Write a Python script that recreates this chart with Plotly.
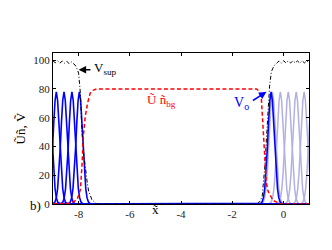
import plotly.graph_objects as go

# eixo x (x~) e rótulos
x_ticks = [-8, -6, -4, -2, 0]
x_ticklabels = ["-8", "-6", "-4", "-2", "0"]
y_ticks = [0, 20, 40, 60, 80, 100]
y_ticklabels = ["0", "20", "40", "60", "80", "100"]

# V_sup (preto, traço-ponto)
vsup_x = [-9.0, -8.91, -8.82, -8.73, -8.64, -8.55, -8.46, -8.37, -8.28, -8.19, -8.13,
          -8.06, -8.00, -7.93, -7.87, -7.80, -7.74, -7.67, -7.61, -7.48, -7.29,
          -1.04, -0.93, -0.83, -0.73, -0.66, -0.61, -0.54, -0.47, -0.37, -0.26,
          -0.17, -0.08, 0.01, 0.10, 0.19, 0.28, 0.37, 0.46, 0.55, 0.64, 0.73, 0.82, 0.91, 1.0]
vsup_y = [99.5, 98.2, 99.6, 98.0, 99.4, 97.9, 99.2, 97.6, 98.8, 97.2, 96.5,
          94, 91, 77, 50, 35, 25, 16, 9, 3, 0,
          0, 1.5, 5, 25, 45, 65, 82, 92, 96, 98,
          99.5, 98.0, 99.6, 98.1, 99.5, 98.0, 99.6, 98.2, 99.5, 98.0, 99.6, 98.1, 99.5, 98.3]

# U n_bg (vermelho, tracejado)
unbg_x = [-9.0, -8.32, -8.06, -7.93, -7.87, -7.81, -7.74, -7.65, -7.55, -7.45, -7.3,
          -1.2, -1.05, -0.95, -0.86, -0.80, -0.73, -0.67, -0.60, -0.54, -0.41, -0.29, -0.1, 1.0]
unbg_y = [0, 0.5, 3, 10, 26, 48, 61, 70, 77, 79, 80,
          80, 80, 78.5, 73, 55, 32, 15, 9, 7, 2.5, 1.5, 0, 0]

# perfil de um pico (deslocamento em x, altura)
peak_dx = [-0.45, -0.40, -0.35, -0.30, -0.25, -0.20, -0.15, -0.10, -0.05, 0.0,
           0.05, 0.10, 0.15, 0.20, 0.25, 0.30, 0.35, 0.40, 0.45]
peak_h = [0, 0.5, 1.5, 4.4, 10.6, 21.7, 38, 56.6, 72, 78,
          72, 56.6, 38, 21.7, 10.6, 4.4, 1.5, 0.5, 0]

# centros dos picos
dark_centers = [-9.17, -8.87, -8.57, -8.26, -7.97, -0.48]
light_centers = [-0.43, -0.12, 0.19, 0.50, 0.81, 1.12]

blue = "rgb(0,0,255)"
light = "rgb(176,176,228)"
serif = "Liberation Serif"

traces = []
for c in light_centers:
    traces.append(go.Scatter(x=[c + d for d in peak_dx], y=peak_h, mode="lines",
                             line=dict(color=light, width=1.5), hoverinfo="skip"))
for c in dark_centers:
    traces.append(go.Scatter(x=[-9.0] + [c + d for d in peak_dx] + [1.0],
                             y=[0] + peak_h + [0], mode="lines",
                             line=dict(color=blue, width=1.6), hoverinfo="skip"))
traces.append(go.Scatter(x=vsup_x, y=vsup_y, mode="lines",
                         line=dict(color="black", width=1, dash="4px,2px,1px,2px")))
traces.append(go.Scatter(x=unbg_x, y=unbg_y, mode="lines",
                         line=dict(color="red", width=1.5, dash="4px,2.5px")))

fig = go.Figure(data=traces)

# posições em pixels da área do gráfico: esquerda 42, largura 259, base 196, altura 151
anns = [
    dict(x=-8.0, y=93.3, ax=-7.48, ay=93.3, axref="x", ayref="y", text="",
         showarrow=True, arrowhead=2, arrowsize=1, arrowwidth=1.5, arrowcolor="black"),
    dict(x=-7.46, y=94.4, text="V<sub>sup</sub>", showarrow=False, xanchor="left",
         font=dict(family=serif, size=13, color="black")),
    dict(x=-5.4, y=72, text="Ũ ñ<sub>bg</sub>", showarrow=False, xanchor="left",
         font=dict(family=serif, size=13, color="red")),
    dict(x=-0.66, y=78, ax=-1.25, ay=71.3, axref="x", ayref="y", text="",
         showarrow=True, arrowhead=2, arrowsize=1, arrowwidth=1.5, arrowcolor=blue),
    dict(x=-1.62, y=70, text="V<sub>o</sub>", showarrow=False,
         font=dict(family=serif, size=14, color=blue)),
    dict(x=(146 - 42) / 259, y=(196 - 211) / 151, xref="paper", yref="paper",
         text="x\u0303", showarrow=False,
         font=dict(family=serif, size=13, color="black")),
    dict(x=(17 - 42) / 259, y=(196 - 207) / 151, xref="paper", yref="paper",
         text="b)", showarrow=False,
         font=dict(family=serif, size=13, color="black")),
]
fig.update_layout(annotations=anns)

fig.update_xaxes(range=[-9, 1], tickvals=x_ticks, ticktext=x_ticklabels,
                 ticks="inside", ticklen=3, tickcolor="black", mirror="ticks",
                 showline=True, linecolor="black", linewidth=1.3, showgrid=False,
                 zeroline=False, tickfont=dict(family=serif, size=11, color="#222"))
fig.update_yaxes(range=[0, 105], tickvals=y_ticks, ticktext=y_ticklabels,
                 ticks="inside", ticklen=3, tickcolor="black", mirror="ticks",
                 showline=True, linecolor="black", linewidth=1.3, showgrid=False,
                 zeroline=False, tickfont=dict(family=serif, size=11, color="#222"),
                 title=dict(text="Ũñ, Ṽ", standoff=4,
                            font=dict(family=serif, size=13, color="black")))

fig.update_layout(width=332, height=250, showlegend=False,
                  margin=dict(l=42, r=31, t=45, b=54),
                  plot_bgcolor="white", paper_bgcolor="white")

fig.write_html("out.html")
